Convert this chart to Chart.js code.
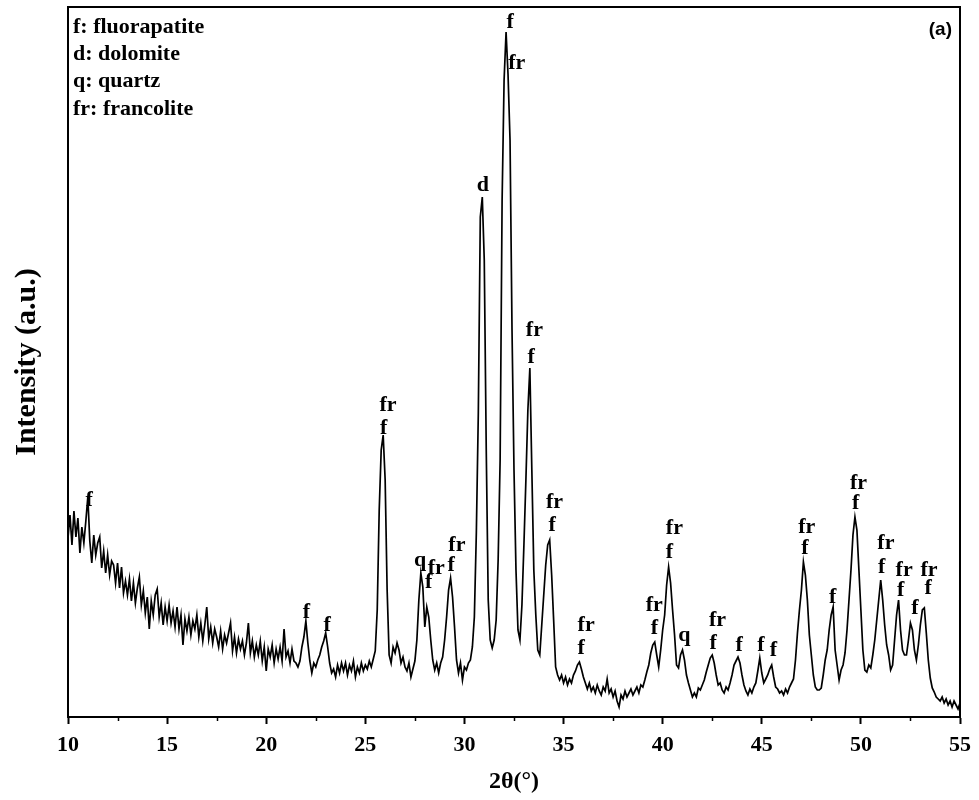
<!DOCTYPE html>
<html>
<head>
<meta charset="utf-8">
<title>XRD pattern (a)</title>
<script src="https://cdn.jsdelivr.net/npm/chart.js@4.4.1/dist/chart.umd.min.js"></script>
<style>
    html, body { margin: 0; padding: 0; background: #fff; }
</style>
</head>
<body>
<canvas id="xrdChart" width="979" height="800"></canvas>
<script>
// XRD scan: 2theta from 10 to 55 deg, one reading every 0.1 deg
const angleStart = 10;
const angleStep = 0.1;

// intensity, one row per degree (x.0 ... x.9), last value is 55.0
const intensity = [
    175, 198, 168, 202, 176, 195, 160, 186, 170, 192,   // 10
    216, 172, 150, 178, 158, 170, 176, 145, 162, 140,   // 11
    158, 138, 152, 148, 130, 150, 125, 146, 120, 132,   // 12
    118, 134, 112, 130, 110, 125, 136, 108, 122, 100,   // 13
    116, 84, 112, 98, 118, 124, 96, 110, 88, 106,       // 14
    92, 108, 90, 102, 86, 106, 84, 98, 68, 94,          // 15
    82, 96, 78, 92, 84, 98, 76, 90, 72, 88,             // 16
    106, 74, 86, 70, 84, 76, 66, 82, 64, 78,            // 17
    70, 80, 90, 62, 76, 60, 74, 64, 72, 58,             // 18
    70, 90, 60, 72, 56, 68, 58, 72, 52, 66,             // 19
    42, 64, 56, 68, 50, 64, 54, 66, 52, 84,             // 20
    56, 62, 50, 64, 52, 50, 46, 52, 66, 76,             // 21
    92, 70, 52, 40, 50, 46, 53, 58, 66, 72,             // 22
    80, 66, 50, 40, 44, 36, 48, 40, 50, 42,             // 23
    50, 38, 48, 42, 52, 36, 46, 40, 50, 42,             // 24
    48, 44, 52, 46, 54, 62, 103, 203, 263, 278,         // 25
    233, 123, 58, 50, 66, 60, 70, 63, 50, 56,           // 26
    46, 42, 50, 36, 44, 52, 73, 113, 140, 126,          // 27
    86, 106, 96, 73, 53, 43, 50, 40, 50, 56,            // 28
    73, 96, 123, 135, 116, 86, 53, 40, 50, 33,          // 29
    46, 43, 50, 53, 66, 96, 180, 300, 496, 516,         // 30
    453, 263, 113, 73, 65, 73, 93, 153, 253, 513,       // 31
    633, 681, 638, 573, 383, 243, 143, 83, 73, 108,     // 32
    168, 233, 303, 345, 243, 143, 98, 63, 58, 88,       // 33
    118, 148, 168, 173, 138, 93, 46, 38, 33, 38,        // 34
    30, 36, 28, 34, 30, 38, 42, 48, 51, 44,             // 35
    36, 30, 24, 30, 22, 26, 20, 28, 22, 18,             // 36
    26, 22, 34, 20, 24, 16, 22, 12, 6, 18,              // 37
    14, 22, 16, 20, 24, 18, 22, 26, 20, 28,             // 38
    26, 33, 41, 48, 60, 68, 71, 58, 46, 63,             // 39
    83, 98, 128, 146, 130, 103, 78, 48, 45, 58,         // 40
    63, 53, 38, 30, 23, 16, 20, 16, 25, 23,             // 41
    28, 33, 41, 48, 55, 58, 50, 38, 28, 30,             // 42
    23, 20, 26, 23, 30, 38, 48, 52, 56, 50,             // 43
    38, 28, 22, 18, 24, 20, 26, 30, 42, 55,             // 44
    40, 30, 34, 38, 44, 48, 36, 26, 24, 20,             // 45
    22, 18, 24, 20, 26, 30, 34, 53, 80, 103,            // 46
    123, 151, 138, 113, 78, 58, 38, 26, 23, 23,         // 47
    25, 38, 53, 63, 83, 98, 106, 63, 48, 33,            // 48
    43, 48, 60, 83, 113, 143, 178, 196, 183, 143,       // 49
    103, 63, 43, 41, 48, 45, 58, 73, 93, 113,           // 50
    133, 113, 88, 68, 58, 43, 48, 73, 98, 113,          // 51
    83, 63, 58, 58, 73, 90, 83, 63, 53, 68,             // 52
    88, 103, 105, 80, 53, 35, 25, 21, 16, 14,           // 53
    12, 16, 10, 14, 8, 12, 6, 12, 8, 4,                 // 54
    10                                                  // 55
];

// phase tags over the peaks (text centre in data units)
const peakTags      = ['f', 'f', 'f', 'fr', 'f', 'q', 'fr', 'f', 'fr', 'f', 'd', 'f', 'fr', 'fr', 'f', 'fr', 'f', 'fr', 'f', 'fr', 'f', 'fr', 'f', 'q', 'fr', 'f', 'f', 'f', 'f', 'fr', 'f', 'f', 'fr', 'f', 'fr', 'f', 'fr', 'f', 'f', 'fr', 'f'];
const peakTagAngles = [11.07, 22.03, 23.07, 26.14, 25.92, 27.77, 28.58, 28.19, 29.62, 29.33, 30.93, 32.31, 32.64, 33.53, 33.37, 34.54, 34.42, 36.14, 35.89, 39.58, 39.58, 40.59, 40.34, 41.09, 42.77, 42.55, 43.86, 44.96, 45.59, 47.27, 47.17, 48.57, 49.88, 49.74, 51.26, 51.05, 52.18, 52.01, 52.72, 53.44, 53.40];
const peakTagLevels = [213, 101, 88, 308, 285, 153, 145, 131, 168, 148, 528, 691, 650, 383, 356, 211, 188, 88, 65, 108, 85, 185, 161, 78, 93, 70, 68, 68, 63, 186, 165, 116, 230, 210, 170, 146, 143, 123, 105, 143, 125];

const phaseLegend = ['f: fluorapatite', 'd: dolomite', 'q: quartz', 'fr: francolite'];
const panelTag = '(a)';

const majorTicks = [10, 15, 20, 25, 30, 35, 40, 45, 50, 55];
const minorTicks = [12.5, 17.5, 22.5, 27.5, 32.5, 37.5, 42.5, 47.5, 52.5];

const SERIF = "'Liberation Serif', 'Times New Roman', serif";

const decorPlugin = {
    id: 'decor',
    afterDraw(chart) {
        const { ctx, chartArea, scales } = chart;
        const x = scales.x;
        const y = scales.y;

        ctx.save();
        // closed frame
        ctx.strokeStyle = '#000';
        ctx.lineWidth = 2;
        ctx.strokeRect(chartArea.left, chartArea.top, chartArea.right - chartArea.left, chartArea.bottom - chartArea.top);

        // minor ticks below the x axis
        ctx.lineWidth = 1.5;
        minorTicks.forEach(v => {
            const px = Math.round(x.getPixelForValue(v)) + 0.5;
            ctx.beginPath();
            ctx.moveTo(px, chartArea.bottom);
            ctx.lineTo(px, chartArea.bottom + 4);
            ctx.stroke();
        });

        // peak tags
        ctx.fillStyle = '#000';
        ctx.font = 'bold 22px ' + SERIF;
        ctx.textAlign = 'center';
        ctx.textBaseline = 'middle';
        peakTags.forEach((tag, i) => {
            ctx.fillText(tag, x.getPixelForValue(peakTagAngles[i]), y.getPixelForValue(peakTagLevels[i]));
        });

        // phase key, top left
        ctx.textAlign = 'left';
        phaseLegend.forEach((line, i) => {
            ctx.fillText(line, chartArea.left + 5, chartArea.top + 20 + i * 27.3);
        });

        // panel letter, top right
        ctx.font = "bold 19px 'Liberation Sans', Arial, sans-serif";
        ctx.textAlign = 'right';
        ctx.fillText(panelTag, chartArea.right - 8, chartArea.top + 23);
        ctx.restore();
    }
};

function renderChart() {
    const ctx = document.getElementById('xrdChart').getContext('2d');
    const points = intensity.map((v, i) => ({ x: angleStart + i * angleStep, y: v }));

    new Chart(ctx, {
        type: 'line',
        data: {
            datasets: [{
                data: points,
                borderColor: '#000',
                borderWidth: 1.7,
                pointRadius: 0,
                tension: 0,
                fill: false
            }]
        },
        options: {
            responsive: false,
            animation: false,
            layout: { padding: { top: 7, right: 18, left: 0, bottom: 0 } },
            plugins: { legend: { display: false }, tooltip: { enabled: false } },
            scales: {
                x: {
                    type: 'linear',
                    min: 10,
                    max: 55,
                    afterBuildTicks: (scale) => { scale.ticks = majorTicks.map(v => ({ value: v })); },
                    afterFit: (scale) => { scale.height = 83; },
                    grid: { drawOnChartArea: false, drawTicks: true, tickLength: 7, tickWidth: 2, tickColor: '#000', color: '#000' },
                    border: { display: true, color: '#000', width: 2 },
                    ticks: {
                        color: '#000',
                        padding: 8,
                        maxRotation: 0,
                        autoSkip: false,
                        font: { family: SERIF, size: 22, weight: 'bold' }
                    },
                    title: {
                        display: true,
                        text: '2θ(°)',
                        color: '#000',
                        padding: { top: 0, bottom: 4 },
                        font: { family: SERIF, size: 24, weight: 'bold' }
                    }
                },
                y: {
                    min: -4,
                    max: 706,
                    afterFit: (scale) => { scale.width = 68; },
                    grid: { display: false },
                    border: { display: true, color: '#000', width: 2 },
                    ticks: { display: false },
                    title: {
                        display: true,
                        text: 'Intensity (a.u.)',
                        color: '#000',
                        padding: { top: 9, bottom: 0 },
                        font: { family: SERIF, size: 30, weight: 'bold' }
                    }
                }
            }
        },
        plugins: [decorPlugin]
    });
}

document.addEventListener('DOMContentLoaded', renderChart);
</script>
</body>
</html>
